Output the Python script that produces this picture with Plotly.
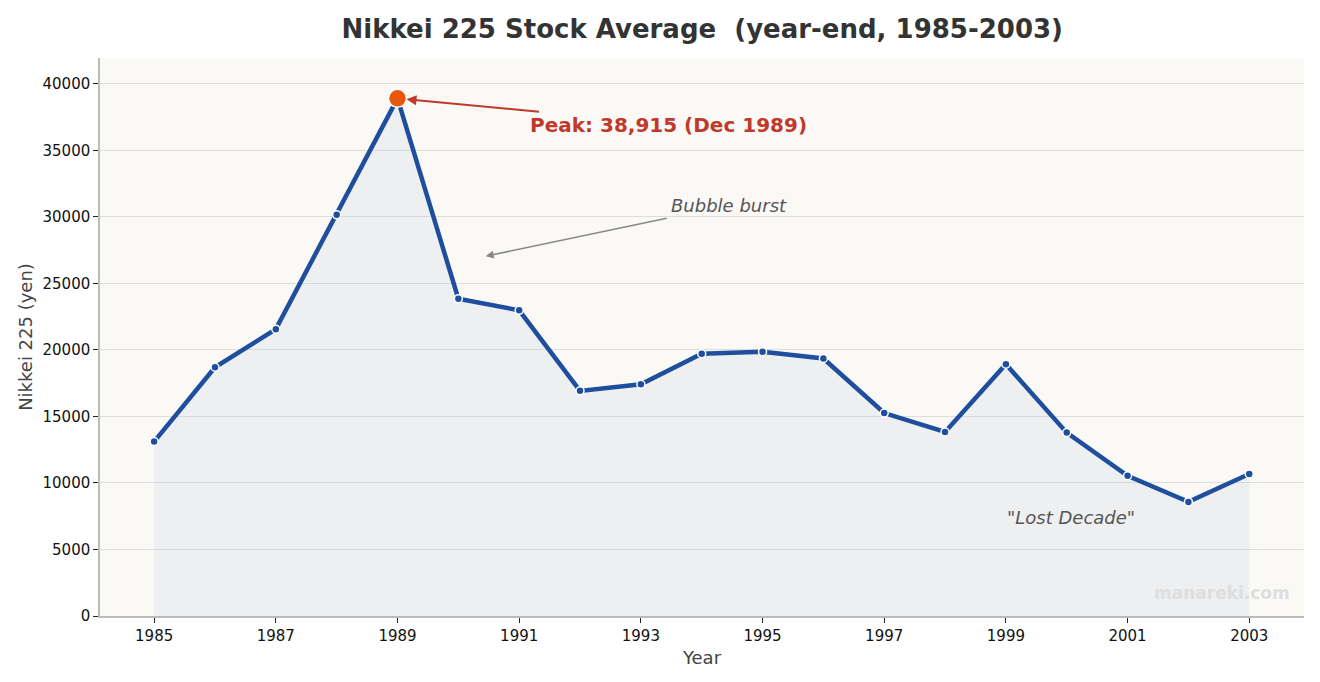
import plotly.graph_objects as go

years = list(range(1985, 2004))
values = [13113, 18701, 21564, 30159, 38915, 23849, 22984, 16925, 17417, 19723,
          19868, 19361, 15259, 13842, 18934, 13786, 10543, 8579, 10677]
peak_year = 1989
peak_value = 38915
x_ticks = list(range(1985, 2004, 2))
y_ticks = list(range(0, 40001, 5000))

FONT = "DejaVu Sans"

fig = go.Figure()
fig.add_trace(go.Scatter(
    x=years, y=values, mode="lines+markers",
    line=dict(color="#1f4e9f", width=4.5),
    marker=dict(size=8, color="#1f4e9f", line=dict(color="white", width=1.5)),
    fill="tozeroy", fillcolor="rgba(200,210,225,0.25)",
    hoverinfo="x+y", showlegend=False,
))
fig.add_trace(go.Scatter(
    x=[peak_year], y=[peak_value], mode="markers",
    marker=dict(size=18, color="#e8580c", line=dict(color="white", width=1.5)),
    showlegend=False,
))

fig.add_annotation(x=peak_year, y=peak_value, ax=1991.35, ay=37900,
                   axref="x", ayref="y", xref="x", yref="y", text="",
                   showarrow=True, arrowhead=2, arrowsize=1, arrowwidth=2,
                   arrowcolor="#c0392b", standoff=9)
fig.add_annotation(x=1993.45, y=36900, xref="x", yref="y",
                   text="<b>Peak: 38,915 (Dec 1989)</b>", showarrow=False,
                   font=dict(family=FONT, size=20, color="#c0392b"))

fig.add_annotation(x=1990.45, y=27050, ax=1993.45, ay=29930,
                   axref="x", ayref="y", xref="x", yref="y", text="",
                   showarrow=True, arrowhead=2, arrowsize=1, arrowwidth=1.6,
                   arrowcolor="#888888", standoff=0)
fig.add_annotation(x=1994.45, y=30830, xref="x", yref="y",
                   text="<i>Bubble burst</i>", showarrow=False,
                   font=dict(family=FONT, size=18, color="#555555"))
fig.add_annotation(x=2000.07, y=7370, xref="x", yref="y",
                   text="<i>\"Lost Decade\"</i>", showarrow=False,
                   font=dict(family=FONT, size=18, color="#555555"))
fig.add_annotation(x=0.99, y=0.02, xref="paper", yref="paper",
                   xanchor="right", yanchor="bottom",
                   text="<b>manareki.com</b>", showarrow=False,
                   font=dict(family=FONT, size=17, color="#dedede"))

fig.update_layout(
    width=1320, height=682,
    margin=dict(l=100, r=16, t=58, b=66),
    paper_bgcolor="white", plot_bgcolor="#faf9f6",
    font=dict(family=FONT, color="#222222"),
    title=dict(text="<b>Nikkei 225 Stock Average  (year-end, 1985-2003)</b>",
               x=0.532, xanchor="center", y=0.958, yanchor="middle",
               font=dict(family=FONT, size=26, color="#333333")),
    xaxis=dict(range=[1984.11, 2003.9], tickvals=x_ticks,
               ticktext=[str(t) for t in x_ticks],
               showgrid=False, zeroline=False,
               showline=True, linecolor="#bbbbbb", linewidth=1.5,
               ticks="outside", ticklen=5, tickcolor="#222222",
               tickfont=dict(size=15, color="#111111"),
               title=dict(text="Year", font=dict(size=18, color="#444444"), standoff=8)),
    yaxis=dict(range=[0, 41950], tickvals=y_ticks,
               ticktext=[str(t) for t in y_ticks],
               showgrid=True, gridcolor="#dddddd", gridwidth=1, zeroline=False,
               showline=True, linecolor="#bbbbbb", linewidth=1.5,
               ticks="outside", ticklen=5, tickcolor="#222222",
               tickfont=dict(size=15, color="#111111"),
               title=dict(text="Nikkei 225 (yen)", font=dict(size=18, color="#444444"), standoff=5)),
)

fig.write_html("out.html")
